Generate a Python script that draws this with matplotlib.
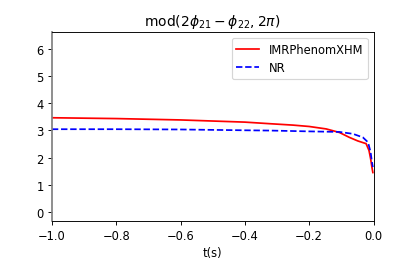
import numpy as np
import matplotlib.pyplot as plt

# time samples (s) and phase difference values
t_xhm = [-1.0, -0.8, -0.6, -0.4, -0.32, -0.25, -0.2, -0.147, -0.106, -0.075, -0.049, -0.023, -0.014, -0.009, -0.005, -0.002]
phi_xhm = [3.46, 3.43, 3.38, 3.30, 3.24, 3.19, 3.14, 3.05, 2.92, 2.74, 2.61, 2.51, 2.26, 1.96, 1.65, 1.45]

t_nr = [-1.0, -0.8, -0.6, -0.4, -0.32, -0.2, -0.106, -0.064, -0.033, -0.017, -0.009, -0.005, -0.002]
phi_nr = [3.04, 3.04, 3.03, 3.00, 2.99, 2.96, 2.94, 2.87, 2.74, 2.56, 2.20, 1.85, 1.65]

fig = plt.figure(figsize=(5, 3.337), dpi=83)
ax = fig.add_subplot(111)
plt.subplots_adjust(bottom=0.2)

ax.plot(t_xhm, phi_xhm, "r-", label="IMRPhenomXHM")
ax.plot(t_nr, phi_nr, "b--", label="NR")

ax.set_xlim(-1.0, 0.0)
ax.set_ylim(-0.05*2*np.pi, 1.05*2*np.pi)
ax.set_xlabel("t(s)")
ax.set_title(r"mod$(2\phi_{21}-\phi_{22},2\pi)$")
ax.spines["left"].set_color("gray")
ax.spines["left"].set_linewidth(1.5)
ax.legend(loc="upper right")

plt.savefig("out.png")
